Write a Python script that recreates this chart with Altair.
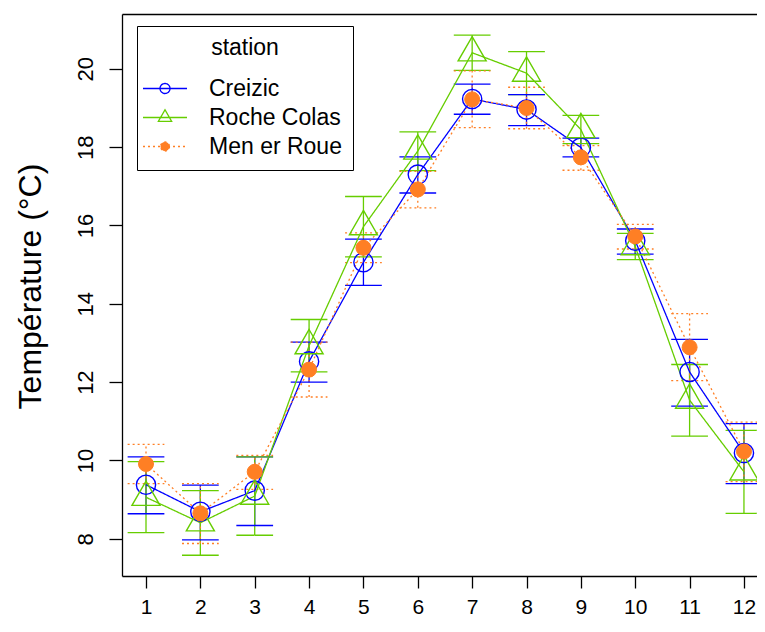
import altair as alt
import pandas as pd

months = list(range(1, 13))
stations = ["Creizic", "Roche Colas", "Men er Roue"]
colors = ["#0000FF", "#66CD00", "#FF7F24"]

creizic_mean = [9.38, 8.69, 9.23, 12.53, 15.06, 17.30, 19.23, 18.96, 17.99, 15.61, 12.26, 10.19]
creizic_lo = [8.64, 7.97, 8.34, 12.00, 14.47, 16.83, 18.84, 18.55, 17.75, 15.27, 11.39, 9.41]
creizic_hi = [10.09, 9.37, 10.09, 13.02, 15.65, 17.75, 19.61, 19.34, 18.23, 15.91, 13.09, 10.94]

roche_mean = [9.06, 8.41, 9.09, 12.93, 15.97, 17.90, 20.41, 19.89, 18.45, 15.46, 11.54, 9.71]
roche_lo = [8.16, 7.58, 8.09, 12.26, 15.20, 17.40, 19.96, 19.34, 18.09, 15.13, 10.62, 8.65]
roche_hi = [9.97, 9.23, 10.09, 13.60, 16.74, 18.39, 20.86, 20.44, 18.81, 15.80, 12.45, 10.77]

mer_mean = [9.91, 8.65, 9.71, 12.32, 15.43, 16.92, 19.22, 19.00, 17.74, 15.72, 12.89, 10.23]
mer_lo = [9.41, 7.88, 9.26, 11.62, 15.05, 16.45, 18.50, 18.47, 17.41, 15.40, 12.04, 9.46]
mer_hi = [10.41, 9.41, 10.13, 13.02, 15.81, 17.38, 19.95, 19.53, 18.04, 16.03, 13.75, 10.98]

y_ticks = [8, 10, 12, 14, 16, 18, 20]

series = {
    "Creizic": (creizic_mean, creizic_lo, creizic_hi),
    "Roche Colas": (roche_mean, roche_lo, roche_hi),
    "Men er Roue": (mer_mean, mer_lo, mer_hi),
}
rows = []
for st in stations:
    m, lo, hi = series[st]
    for i, mo in enumerate(months):
        rows.append({"month": mo, "station": st, "mean": m[i], "lo": lo[i], "hi": hi[i]})
df = pd.DataFrame(rows)

F = "Liberation Sans"
FS = 22
LFS = 23
LW = 1.3

xs = alt.Scale(domain=[0.5585, 12.24], nice=False, zero=False)
ys = alt.Scale(domain=[7.05, 21.40], nice=False, zero=False)
cs = alt.Scale(domain=stations, range=colors)
ds = alt.Scale(domain=stations, range=[[1, 0], [1, 0], [2, 3]])

x_bottom = alt.Axis(values=months, tickSize=12, tickWidth=LW, tickColor="black",
                    domainColor="black", domainWidth=LW, labelFont=F, labelFontSize=21,
                    labelColor="black", labelPadding=8, labelBaseline="top", grid=False,
                    title=None, labelFlush=False, labelOverlap=False, format="d")
x_top = alt.Axis(orient="top", labels=False, ticks=False, title=None, grid=False,
                 domainColor="black", domainWidth=LW)
y_axis = alt.Axis(values=y_ticks, tickSize=13, tickWidth=LW, tickColor="black",
                  domainColor="black", domainWidth=LW, labelFont=F, labelFontSize=FS,
                  labelColor="black", labelAngle=270, labelAlign="center",
                  labelBaseline="bottom", labelPadding=12, grid=False,
                  title="Température (°C)", titleFont=F, titleFontSize=32,
                  titleFontWeight="normal", titleColor="black", titleAngle=270,
                  titleBaseline="middle", titleAlign="center", titleX=-92, titleY=272,
                  labelFlush=False, labelOverlap=False)

sym_expr = ("datum.value == 'Creizic' ? 'M-4.4,0L4.4,0M1,0A1,1,0,1,1,-1,0A1,1,0,1,1,1,0Z' : "
            "datum.value == 'Roche Colas' ? 'M-4.4,0L4.4,0M0,-1.54L1.33,0.77L-1.33,0.77Z' : "
            "'M-4.4,0L4.4,0M0.9,0A0.9,0.9,0,1,1,-0.9,0A0.9,0.9,0,1,1,0.9,0Z'")
fill_expr = "datum.value == 'Men er Roue' ? '#FF7F24' : 'transparent'"
dash_expr = "datum.value == 'Men er Roue' ? [2, 3] : [1, 0]"

legend = alt.Legend(
    title="station", orient="none", legendX=15, legendY=12,
    strokeColor="black", fillColor="white", padding=11,
    titleFont=F, titleFontSize=LFS, titleFontWeight="normal", titleColor="black",
    titleAnchor="middle", titlePadding=17,
    labelFont=F, labelFontSize=LFS, labelColor="black", labelOffset=32.5, labelLimit=400,
    symbolType={"expr": sym_expr}, symbolSize=100, symbolOffset=5.5,
    symbolStrokeWidth=LW, symbolFillColor={"expr": fill_expr},
    symbolDash={"expr": dash_expr}, rowPadding=5,
)

color_enc = alt.Color("station:N", scale=cs, legend=legend)
dash_enc = alt.StrokeDash("station:N", scale=ds, legend=None)

base = alt.Chart(df)
x_none = alt.X("month:Q", scale=xs, axis=None)

err = base.mark_rule(strokeWidth=LW, clip=True).encode(
    x=alt.X("month:Q", scale=xs, axis=x_top),
    y=alt.Y("lo:Q", scale=ys, axis=y_axis),
    y2="hi:Q",
    color=color_enc,
    strokeDash=dash_enc,
)

caps = base.transform_calculate(
    xl="datum.month - 0.338", xr="datum.month + 0.338"
)
cap_lo = caps.mark_rule(strokeWidth=LW, clip=True).encode(
    x=alt.X("xl:Q", scale=xs, axis=None), x2="xr:Q",
    y=alt.Y("lo:Q", scale=ys, axis=y_axis),
    color=color_enc,
    strokeDash=dash_enc,
)
cap_hi = caps.mark_rule(strokeWidth=LW, clip=True).encode(
    x=alt.X("xl:Q", scale=xs, axis=None), x2="xr:Q",
    y=alt.Y("hi:Q", scale=ys, axis=y_axis),
    color=color_enc,
    strokeDash=dash_enc,
)

lines = base.mark_line(strokeWidth=LW, clip=True).encode(
    x=alt.X("month:Q", scale=xs, axis=x_bottom),
    y=alt.Y("mean:Q", scale=ys, axis=y_axis),
    color=color_enc,
    strokeDash=dash_enc,
    detail="station:N",
)

tri = "M0,-1L0.866,0.5L-0.866,0.5Z"

p_blue = base.transform_filter("datum.station == 'Creizic'").mark_point(
    shape="circle", size=370, filled=False, strokeWidth=1.4, color=colors[0], opacity=1, clip=True
).encode(x=x_none, y=alt.Y("mean:Q", scale=ys, axis=y_axis))

p_green = base.transform_filter("datum.station == 'Roche Colas'").mark_point(
    shape=tri, size=1050, filled=False, strokeWidth=1.4, color=colors[1], opacity=1, clip=True
).encode(x=x_none, y=alt.Y("mean:Q", scale=ys, axis=y_axis))

p_orange = base.transform_filter("datum.station == 'Men er Roue'").mark_point(
    shape="circle", size=225, filled=True, strokeWidth=1, stroke=colors[2], fill=colors[2],
    opacity=1, clip=True
).encode(x=x_none, y=alt.Y("mean:Q", scale=ys, axis=y_axis))

chart = alt.layer(err, cap_lo, cap_hi, lines, p_blue, p_green, p_orange).resolve_axis(
    x="independent"
).properties(
    width=635, height=562,
    padding={"left": 114, "top": 6, "right": 0, "bottom": 48},
    autosize=alt.AutoSizeParams(type="none"),
).configure_view(stroke=None)

chart.save("out.html", embed_options={"renderer": "svg", "actions": False})
